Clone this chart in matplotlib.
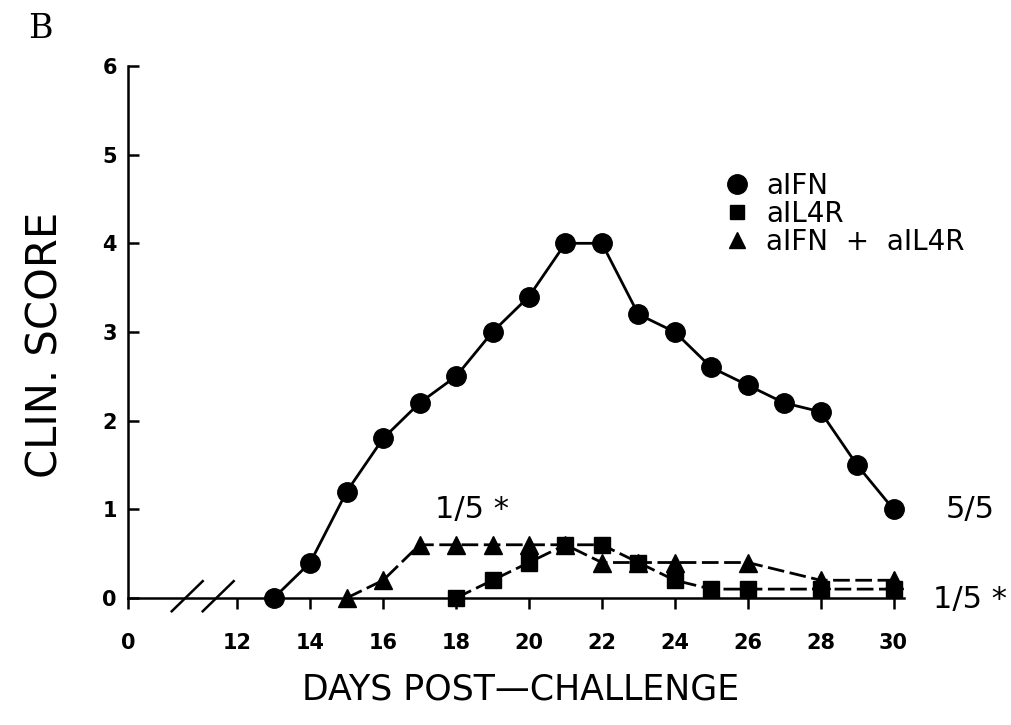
import numpy as np
import matplotlib.pyplot as plt
from matplotlib.lines import Line2D

# data (days post-challenge, clinical score)
days_ifn = [13, 14, 15, 16, 17, 18, 19, 20, 21, 22, 23, 24, 25, 26, 27, 28, 29, 30]
score_ifn = [0, 0.4, 1.2, 1.8, 2.2, 2.5, 3.0, 3.4, 4.0, 4.0, 3.2, 3.0, 2.6, 2.4, 2.2, 2.1, 1.5, 1.0]

days_il4r = [18, 19, 20, 21, 22, 23, 24, 25, 26, 28, 30]
score_il4r = [0, 0.2, 0.4, 0.6, 0.6, 0.4, 0.2, 0.1, 0.1, 0.1, 0.1]

days_both = [15, 16, 17, 18, 19, 20, 21, 22, 23, 24, 26, 28, 30]
score_both = [0, 0.2, 0.6, 0.6, 0.6, 0.6, 0.6, 0.4, 0.4, 0.4, 0.4, 0.2, 0.2]

labels = ["aIFN", "aIL4R", "aIFN  +  aIL4R"]
xticks = [9, 12, 14, 16, 18, 20, 22, 24, 26, 28, 30]   # 9 stands for the "0" before the axis break
xticklabels = ["0", "12", "14", "16", "18", "20", "22", "24", "26", "28", "30"]
yticks = [0, 1, 2, 3, 4, 5, 6]

fig = plt.figure(figsize=(10.11, 7.25), dpi=100)
ax = fig.add_axes([0.1266, 0.1752, 0.768, 0.7338])

lw = 2.0
ax.plot(days_ifn, score_ifn, color="black", lw=lw, marker="o", ms=14, clip_on=False, zorder=3)
ax.plot(days_il4r, score_il4r, color="black", lw=lw, ls=(0, (6, 2)), marker="s", ms=11, clip_on=False, zorder=3)
ax.plot(days_both, score_both, color="black", lw=lw, ls=(0, (6, 2)), marker="^", ms=13, clip_on=False, zorder=3)

ax.set_xlim(9, 30.3)
ax.set_ylim(0, 6)
ax.spines["top"].set_visible(False)
ax.spines["right"].set_visible(False)
ax.spines["left"].set_linewidth(1.8)
ax.spines["bottom"].set_linewidth(1.8)

ax.set_xticks(xticks)
ax.set_xticklabels(xticklabels, fontsize=15, fontweight="bold")
ax.set_yticks(yticks)
ax.set_yticklabels([str(v) for v in yticks], fontsize=15, fontweight="bold")
ax.tick_params(axis="x", direction="out", length=8, width=1.8, pad=17)
ax.tick_params(axis="y", direction="in", length=8, width=1.8, pad=8)

# axis break marks
for x0 in (10.2, 11.05):
    ax.plot([x0, x0 + 0.85], [-0.15, 0.19], color="black", lw=1.8, clip_on=False)

ax.set_xlabel("DAYS POST\u2014CHALLENGE", fontsize=25)
ax.xaxis.set_label_coords(0.505, -0.14)
ax.set_ylabel("CLIN. SCORE", fontsize=30)
ax.yaxis.set_label_coords(-0.079, 0.476)

handles = [Line2D([], [], color="black", ls="none", marker=m, ms=s)
           for m, s in (("o", 14), ("s", 10), ("^", 12))]
ax.legend(handles, labels, loc="upper left", bbox_to_anchor=(0.745, 0.827), frameon=False,
          fontsize=20, handletextpad=0.45, labelspacing=0.0, borderpad=0, handlelength=1.2)

ax.text(18.45, 1.0, "1/5 *", fontsize=22, ha="center", va="center")
ax.text(32.1, 1.0, "5/5", fontsize=22, ha="center", va="center", clip_on=False)
ax.text(32.1, -0.02, "1/5 *", fontsize=22, ha="center", va="center", clip_on=False)

fig.text(0.028, 0.96, "B", fontsize=24, family="DejaVu Serif", va="center", ha="left")

fig.savefig("out.png", dpi=100)
